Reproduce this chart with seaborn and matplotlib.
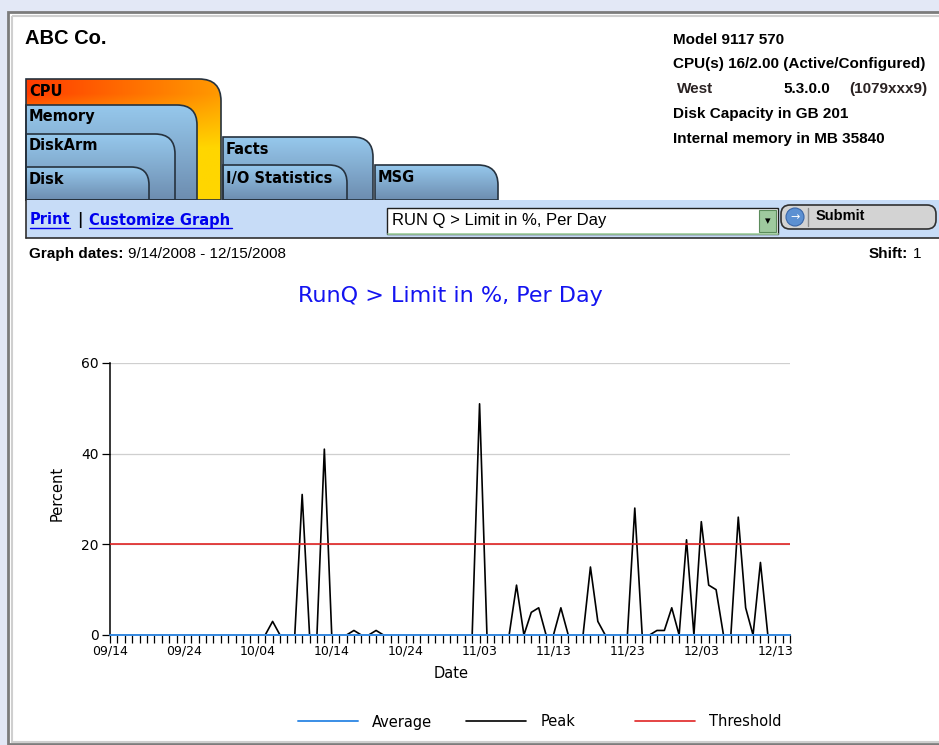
# RunQ > Limit in %, Per Day - report page recreated with seaborn / matplotlib

import numpy as np
import pandas as pd
import seaborn as sns
import matplotlib.pyplot as plt
import matplotlib.colors as mcolors
from matplotlib.patches import Rectangle, FancyBboxPatch, PathPatch, Circle
from matplotlib.path import Path

W, H = 939, 745

# Daily values, 9/14/2008 - 12/15/2008
dates = pd.date_range('2008-09-14', '2008-12-15', freq='D')
peak = [0, 0, 0, 0, 0, 0, 0, 0, 0, 0,
        0, 0, 0, 0, 0, 0, 0, 0, 0, 0,
        0, 0, 3, 0, 0, 0, 31, 0, 0, 41,
        0, 0, 0, 1, 0, 0, 1, 0, 0, 0,
        0, 0, 0, 0, 0, 0, 0, 0, 0, 0,
        51, 0, 0, 0, 0, 11, 0, 5, 6, 0,
        0, 6, 0, 0, 0, 15, 3, 0, 0, 0,
        0, 28, 0, 0, 1, 1, 6, 0, 21, 0,
        25, 11, 10, 0, 0, 26, 6, 0, 16, 0,
        0, 0, 0]
average = [0, 0, 0, 0, 0, 0, 0, 0, 0, 0,
           0, 0, 0, 0, 0, 0, 0, 0, 0, 0,
           0, 0, 0, 0, 0, 0, 0, 0, 0, 0,
           0, 0, 0, 0, 0, 0, 0, 0, 0, 0,
           0, 0, 0, 0, 0, 0, 0, 0, 0, 0,
           0, 0, 0, 0, 0, 0, 0, 0, 0, 0,
           0, 0, 0, 0, 0, 0, 0, 0, 0, 0,
           0, 0, 0, 0, 0, 0, 0, 0, 0, 0,
           0, 0, 0, 0, 0, 0, 0, 0, 0, 0,
           0, 0, 0]
threshold = 20
y_ticks = [0, 20, 40, 60]
series_names = ['Average', 'Peak', 'Threshold']
series_colors = ['#3a8ee6', 'black', '#e02424']

# Header info texts
info_lines = ['Model 9117 570', 'CPU(s) 16/2.00 (Active/Configured)',
              'Disk Capacity in GB 201', 'Internal memory in MB 35840']

sns.set_theme(style='white')
plt.rcParams['font.family'] = ['DejaVu Sans']
plt.rcParams['text.color'] = 'black'
plt.rcParams['axes.labelcolor'] = 'black'
plt.rcParams['xtick.color'] = 'black'
plt.rcParams['ytick.color'] = 'black'

fig = plt.figure(figsize=(W / 100, H / 100), dpi=100)
fig.patch.set_facecolor('#e3e8f6')

# full-figure axes in pixel coords for the page decoration
ui = fig.add_axes([0, 0, 1, 1], zorder=0)
ui.set_xlim(0, W)
ui.set_ylim(H, 0)
ui.axis('off')

# page frame
ui.add_patch(Rectangle((8, 12), W, H - 13, facecolor='white', edgecolor='#7c7c7c', lw=2))
ui.add_patch(Rectangle((11.5, 15.5), W, H - 19, facecolor='none', edgecolor='#cfcfcf', lw=1.5))


def tab(x0, x1, top, r, img, bottom=200):
    verts = [(x0, bottom), (x0, top), (x1 - r, top), (x1, top), (x1, top + r),
             (x1, bottom), (x0, bottom)]
    codes = [Path.MOVETO, Path.LINETO, Path.LINETO, Path.CURVE3, Path.CURVE3,
             Path.LINETO, Path.CLOSEPOLY]
    patch = PathPatch(Path(verts, codes), facecolor='none', edgecolor='none')
    ui.add_patch(patch)
    im = ui.imshow(img, extent=(x0, x1, bottom, top), aspect='auto', zorder=1)
    im.set_clip_path(patch)
    ui.add_patch(PathPatch(Path(verts, codes), facecolor='none',
                           edgecolor='#26323e', lw=1.2, zorder=2))


def vgrad(c_top, c_bot, n=80):
    a = np.array(mcolors.to_rgb(c_top))
    b = np.array(mcolors.to_rgb(c_bot))
    t = np.linspace(0, 1, n)[:, None, None]
    img = a * (1 - t) + b * t
    return np.broadcast_to(img, (n, n, 3)).copy()


# active CPU tab: red-orange along the top, yellow down the right side
n = 120
s = np.linspace(0, 1, n)[None, :, None]
t = np.linspace(0, 1, n)[:, None, None]
top_row = np.array(mcolors.to_rgb('#ff3c00')) * (1 - s) + np.array(mcolors.to_rgb('#ff9a00')) * s
k = np.clip((t - 0.12) / 0.45, 0, 1)
cpu_img = top_row * (1 - k) + np.array(mcolors.to_rgb('#ffd600')) * k

blue = vgrad('#96c8ec', '#6d8db0')
tab(26, 221, 79, 22, cpu_img)
tab(26, 197, 105, 20, blue)
tab(26, 175, 134, 20, blue)
tab(26, 149, 167, 18, blue)
tab(223, 373, 137, 20, blue)
tab(223, 347, 165, 18, blue)
tab(375, 498, 165, 20, blue)

tab_font = dict(fontsize=10.5, fontweight='bold', color='black', va='center', zorder=3)
ui.text(29, 91, 'CPU', **tab_font)
ui.text(29, 117, 'Memory', **tab_font)
ui.text(29, 146, 'DiskArm', **tab_font)
ui.text(29, 179, 'Disk', **tab_font)
ui.text(226, 149, 'Facts', **tab_font)
ui.text(226, 178, 'I/O Statistics', **tab_font)
ui.text(378, 178, 'MSG', **tab_font)

# toolbar strip
ui.add_patch(Rectangle((26, 200), W, 38, facecolor='#c7dcf7', edgecolor='none', zorder=3))
ui.plot([26, W], [238, 238], color='#303030', lw=1.2, zorder=4)
ui.plot([26, 26], [200, 238], color='#303030', lw=1.2, zorder=4)
link = dict(color='#0000ee', fontsize=10.5, fontweight='bold', va='center', zorder=5)
ui.text(30, 220, 'Print', **link)
ui.plot([30, 70], [228, 228], color='#0000ee', lw=1, zorder=5)
ui.text(77, 220, '|', color='black', fontsize=10.5, fontweight='bold', va='center', zorder=5)
ui.text(89, 220, 'Customize Graph', **link)
ui.plot([89, 232], [228, 228], color='#0000ee', lw=1, zorder=5)

# dropdown
ui.add_patch(Rectangle((387, 208), 391, 26, facecolor='white', edgecolor='#202020', lw=1, zorder=5))
ui.plot([388, 778], [233.5, 233.5], color='#a6d6a6', lw=1.2, zorder=6)
ui.add_patch(Rectangle((759, 210), 17, 22, facecolor='#9ec99e', edgecolor='#5c8c5c', lw=0.8, zorder=6))
ui.text(767.5, 221, '\u25be', fontsize=8, ha='center', va='center', color='black', zorder=7)
ui.text(392, 221, 'RUN Q > Limit in %, Per Day', fontsize=12, family='Liberation Sans',
        va='center', color='black', zorder=7)

# submit button
ui.add_patch(FancyBboxPatch((781, 205), 155, 24, boxstyle='round,pad=0,rounding_size=9',
                            facecolor='#d3d3d3', edgecolor='#303030', lw=1.2, zorder=5))
ui.add_patch(Circle((795, 217), 9, facecolor='#5c90d2', edgecolor='#3a66a8', lw=0.8, zorder=6))
ui.text(795, 217, '\u2192', fontsize=8, color='white', ha='center', va='center', zorder=7)
ui.plot([808, 808], [208, 226], color='#8a8a8a', lw=1, zorder=6)
ui.text(816, 216, 'Submit', fontsize=10.5, fontweight='bold', family='Liberation Sans',
        va='center', color='black', zorder=7)

# header texts
head = dict(fontsize=11, fontweight='bold', family='Liberation Sans', va='center')
ui.text(25, 38, 'ABC Co.', fontsize=14.5, fontweight='bold', family='Liberation Sans', va='center')
for y, line in zip([40, 64, 114, 139], info_lines):
    ui.text(673, y, line, **head)
ui.text(677, 89, 'West', color='#2a2222', **head)
ui.text(783, 89, '5.3.0.0', **head)
ui.text(927, 89, '(1079xxx9)', ha='right', color='#2a2222', **head)

ui.text(29, 254, 'Graph dates:', fontsize=11, fontweight='bold', family='Liberation Sans', va='center')
ui.text(128, 254, '9/14/2008 - 12/15/2008', fontsize=11, family='Liberation Sans', va='center')
ui.text(908, 254, 'Shift:', fontsize=11, fontweight='bold', family='Liberation Sans', va='center', ha='right')
ui.text(921, 254, '1', fontsize=11, family='Liberation Sans', va='center', ha='right')

# chart title
ui.text(450.5, 296, 'RunQ > Limit in %, Per Day', fontsize=16, color='#1414f0',
        ha='center', va='center')

# the chart itself
df = pd.DataFrame({'Date': dates, 'Peak': peak, 'Average': average})
ax = fig.add_axes([110 / W, 1 - 635 / H, 680 / W, 272 / H], zorder=2)
ax.set_facecolor('none')
sns.lineplot(data=df, x='Date', y='Peak', color=series_colors[1], lw=1.2, ax=ax,
             label=series_names[1], zorder=3)
sns.lineplot(data=df, x='Date', y='Average', color=series_colors[0], lw=1.4, ax=ax,
             label=series_names[0], zorder=5, clip_on=False)
ax.axhline(threshold, color=series_colors[2], lw=1.2, label=series_names[2], zorder=4)

ax.set_xlim(dates[0], dates[-1])
ax.set_ylim(0, 60)
ax.set_yticks(y_ticks)
ax.set_xticks(dates[::10])
ax.set_xticks(dates, minor=True)
ax.set_xticklabels([d.strftime('%m/%d') for d in dates[::10]], fontsize=9)
ax.tick_params(axis='x', which='both', direction='out', length=6, width=0.9,
               color='black', bottom=True, pad=1)
ax.tick_params(axis='y', direction='out', length=6, width=0.9, color='black',
               left=True, labelsize=10, pad=2)
ax.grid(axis='y', color='#cfcfcf', lw=0.9)
ax.grid(axis='x', visible=False)
for side in ['top', 'right']:
    ax.spines[side].set_visible(False)
for side in ['left', 'bottom']:
    ax.spines[side].set_color('black')
    ax.spines[side].set_linewidth(1.1)

ax.set_xlabel('Date', fontsize=10.5)
ax.set_ylabel('Percent', fontsize=10.5)
ax.xaxis.set_label_coords((451 - 110) / 680, -(673 - 635) / 272)
ax.xaxis.label.set_va('center')
ax.yaxis.set_label_coords(-(110 - 57) / 680, (635 - 493) / 272)
ax.yaxis.label.set_va('center')

# legend, one fixed-width cell per series like the original
handles, labels = ax.get_legend_handles_labels()
ax.get_legend().remove()
lookup = dict(zip(labels, handles))
for name, x0 in zip(series_names, [298, 466, 635]):
    fig.legend([lookup[name]], [name], loc='center left',
               bbox_to_anchor=(x0 / W, 1 - 722 / H), frameon=False, fontsize=10.5,
               handlelength=4.1, handletextpad=1.0, borderpad=0, borderaxespad=0)

fig.savefig('out.png', dpi=100, facecolor=fig.get_facecolor())
